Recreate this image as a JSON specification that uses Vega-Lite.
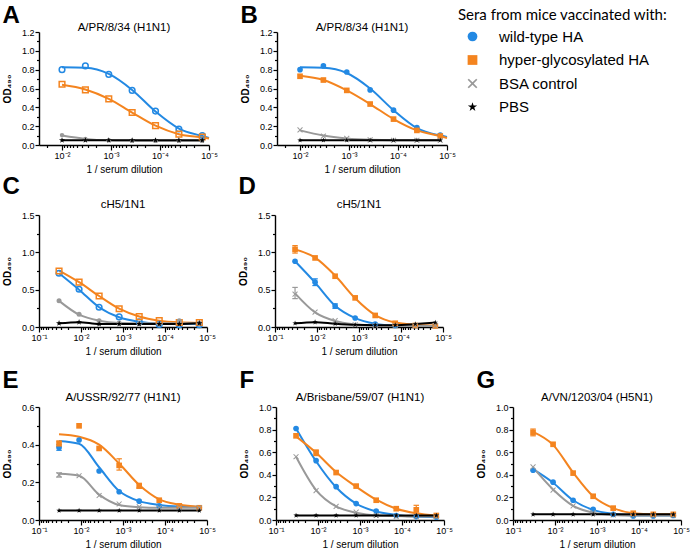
{
"$schema": "https://vega.github.io/schema/vega-lite/v6.json",
"background": "white",
"padding": {"left": 2, "top": 3, "right": 0, "bottom": 0},
"datasets": {"d": [
{"p":"A","s":"wild-type HA","x":0.01,"y":0.80,"f":0.825},
{"p":"A","s":"wild-type HA","x":0.0033333,"y":0.84,"f":0.82},
{"p":"A","s":"wild-type HA","x":0.0011111,"y":0.75,"f":0.755},
{"p":"A","s":"wild-type HA","x":0.00037037,"y":0.58,"f":0.585},
{"p":"A","s":"wild-type HA","x":0.00012346,"y":0.36,"f":0.355},
{"p":"A","s":"wild-type HA","x":0.000041152,"y":0.17,"f":0.175},
{"p":"A","s":"wild-type HA","x":0.000013717,"y":0.10,"f":0.095},
{"p":"A","s":"wild-type HA","x":0.00001,"f":0.075},
{"p":"A","s":"hyper-glycosylated HA","x":0.01,"y":0.645,"f":0.64},
{"p":"A","s":"hyper-glycosylated HA","x":0.0033333,"y":0.585,"f":0.59},
{"p":"A","s":"hyper-glycosylated HA","x":0.0011111,"y":0.49,"f":0.49},
{"p":"A","s":"hyper-glycosylated HA","x":0.00037037,"y":0.345,"f":0.345},
{"p":"A","s":"hyper-glycosylated HA","x":0.00012346,"y":0.205,"f":0.205},
{"p":"A","s":"hyper-glycosylated HA","x":0.000041152,"y":0.115,"f":0.115},
{"p":"A","s":"hyper-glycosylated HA","x":0.000013717,"y":0.085,"f":0.08},
{"p":"A","s":"hyper-glycosylated HA","x":0.00001,"f":0.07},
{"p":"A","s":"BSA control","x":0.01,"y":0.105,"f":0.10},
{"p":"A","s":"BSA control","x":0.0033333,"y":0.065,"f":0.065},
{"p":"A","s":"BSA control","x":0.0011111,"y":0.05,"f":0.05},
{"p":"A","s":"BSA control","x":0.00037037,"y":0.045,"f":0.047},
{"p":"A","s":"BSA control","x":0.00012346,"y":0.045,"f":0.045},
{"p":"A","s":"BSA control","x":0.000041152,"y":0.045,"f":0.045},
{"p":"A","s":"BSA control","x":0.000013717,"y":0.045,"f":0.045},
{"p":"A","s":"PBS","x":0.01,"y":0.05,"f":0.05},
{"p":"A","s":"PBS","x":0.0033333,"y":0.05,"f":0.05},
{"p":"A","s":"PBS","x":0.0011111,"y":0.05,"f":0.05},
{"p":"A","s":"PBS","x":0.00037037,"y":0.05,"f":0.05},
{"p":"A","s":"PBS","x":0.00012346,"y":0.05,"f":0.05},
{"p":"A","s":"PBS","x":0.000041152,"y":0.05,"f":0.05},
{"p":"A","s":"PBS","x":0.000013717,"y":0.05,"f":0.05},
{"p":"B","s":"wild-type HA","x":0.01,"y":0.80,"f":0.825},
{"p":"B","s":"wild-type HA","x":0.0033333,"y":0.84,"f":0.82},
{"p":"B","s":"wild-type HA","x":0.0011111,"y":0.775,"f":0.765},
{"p":"B","s":"wild-type HA","x":0.00037037,"y":0.585,"f":0.6},
{"p":"B","s":"wild-type HA","x":0.00012346,"y":0.37,"f":0.37},
{"p":"B","s":"wild-type HA","x":0.000041152,"y":0.185,"f":0.18},
{"p":"B","s":"wild-type HA","x":0.000013717,"y":0.105,"f":0.10},
{"p":"B","s":"wild-type HA","x":0.00001,"f":0.085},
{"p":"B","s":"hyper-glycosylated HA","x":0.01,"y":0.73,"f":0.735},
{"p":"B","s":"hyper-glycosylated HA","x":0.0033333,"y":0.69,"f":0.69},
{"p":"B","s":"hyper-glycosylated HA","x":0.0011111,"y":0.58,"f":0.58},
{"p":"B","s":"hyper-glycosylated HA","x":0.00037037,"y":0.435,"f":0.435},
{"p":"B","s":"hyper-glycosylated HA","x":0.00012346,"y":0.275,"f":0.275},
{"p":"B","s":"hyper-glycosylated HA","x":0.000041152,"y":0.155,"f":0.155},
{"p":"B","s":"hyper-glycosylated HA","x":0.000013717,"y":0.095,"f":0.095},
{"p":"B","s":"hyper-glycosylated HA","x":0.00001,"f":0.075},
{"p":"B","s":"BSA control","x":0.01,"y":0.16,"f":0.155},
{"p":"B","s":"BSA control","x":0.0033333,"y":0.095,"f":0.10},
{"p":"B","s":"BSA control","x":0.0011111,"y":0.07,"f":0.07},
{"p":"B","s":"BSA control","x":0.00037037,"y":0.055,"f":0.055},
{"p":"B","s":"BSA control","x":0.00012346,"y":0.05,"f":0.05},
{"p":"B","s":"BSA control","x":0.000041152,"y":0.05,"f":0.05},
{"p":"B","s":"BSA control","x":0.000013717,"y":0.05,"f":0.05},
{"p":"B","s":"PBS","x":0.01,"y":0.05,"f":0.05},
{"p":"B","s":"PBS","x":0.0033333,"y":0.05,"f":0.05},
{"p":"B","s":"PBS","x":0.0011111,"y":0.05,"f":0.05},
{"p":"B","s":"PBS","x":0.00037037,"y":0.05,"f":0.05},
{"p":"B","s":"PBS","x":0.00012346,"y":0.05,"f":0.05},
{"p":"B","s":"PBS","x":0.000041152,"y":0.05,"f":0.05},
{"p":"B","s":"PBS","x":0.000013717,"y":0.05,"f":0.05},
{"p":"C","s":"wild-type HA","x":0.033333,"y":0.72,"f":0.72},
{"p":"C","s":"wild-type HA","x":0.011111,"y":0.505,"f":0.50},
{"p":"C","s":"wild-type HA","x":0.0037037,"y":0.265,"f":0.265},
{"p":"C","s":"wild-type HA","x":0.0012346,"y":0.135,"f":0.13},
{"p":"C","s":"wild-type HA","x":0.00041152,"y":0.07,"f":0.07},
{"p":"C","s":"wild-type HA","x":0.00013717,"y":0.035,"f":0.045},
{"p":"C","s":"wild-type HA","x":0.000045725,"y":0.03,"f":0.04},
{"p":"C","s":"wild-type HA","x":0.000015242,"y":0.03,"f":0.04},
{"p":"C","s":"hyper-glycosylated HA","x":0.033333,"y":0.75,"f":0.755},
{"p":"C","s":"hyper-glycosylated HA","x":0.011111,"y":0.60,"f":0.60},
{"p":"C","s":"hyper-glycosylated HA","x":0.0037037,"y":0.415,"f":0.415},
{"p":"C","s":"hyper-glycosylated HA","x":0.0012346,"y":0.245,"f":0.245},
{"p":"C","s":"hyper-glycosylated HA","x":0.00041152,"y":0.14,"f":0.14},
{"p":"C","s":"hyper-glycosylated HA","x":0.00013717,"y":0.085,"f":0.085},
{"p":"C","s":"hyper-glycosylated HA","x":0.000045725,"y":0.06,"f":0.062},
{"p":"C","s":"hyper-glycosylated HA","x":0.000015242,"y":0.06,"f":0.055},
{"p":"C","s":"BSA control","x":0.033333,"y":0.35,"f":0.35},
{"p":"C","s":"BSA control","x":0.011111,"y":0.17,"f":0.165},
{"p":"C","s":"BSA control","x":0.0037037,"y":0.085,"f":0.085},
{"p":"C","s":"BSA control","x":0.0012346,"y":0.053,"f":0.055},
{"p":"C","s":"BSA control","x":0.00041152,"y":0.045,"f":0.05},
{"p":"C","s":"BSA control","x":0.00013717,"y":0.04,"f":0.05},
{"p":"C","s":"BSA control","x":0.000045725,"y":0.085,"f":0.05},
{"p":"C","s":"BSA control","x":0.000015242,"y":0.05,"f":0.05},
{"p":"C","s":"PBS","x":0.033333,"y":0.05,"f":0.05},
{"p":"C","s":"PBS","x":0.011111,"y":0.065,"f":0.065},
{"p":"C","s":"PBS","x":0.0037037,"y":0.04,"f":0.04},
{"p":"C","s":"PBS","x":0.0012346,"y":0.04,"f":0.04},
{"p":"C","s":"PBS","x":0.00041152,"y":0.04,"f":0.04},
{"p":"C","s":"PBS","x":0.00013717,"y":0.04,"f":0.04},
{"p":"C","s":"PBS","x":0.000045725,"y":0.04,"f":0.04},
{"p":"C","s":"PBS","x":0.000015242,"y":0.05,"f":0.05},
{"p":"D","s":"wild-type HA","x":0.033333,"y":0.88,"f":0.88},
{"p":"D","s":"wild-type HA","x":0.011111,"y":0.60,"f":0.595,"lo":0.555,"hi":0.645},
{"p":"D","s":"wild-type HA","x":0.0037037,"y":0.28,"f":0.285,"lo":0.25,"hi":0.31},
{"p":"D","s":"wild-type HA","x":0.0012346,"y":0.12,"f":0.12},
{"p":"D","s":"wild-type HA","x":0.00041152,"y":0.04,"f":0.045},
{"p":"D","s":"wild-type HA","x":0.00013717,"y":0.02,"f":0.02},
{"p":"D","s":"wild-type HA","x":0.000045725,"y":0.02,"f":0.015},
{"p":"D","s":"wild-type HA","x":0.000015242,"y":0.02,"f":0.015},
{"p":"D","s":"hyper-glycosylated HA","x":0.033333,"y":1.04,"f":1.04,"lo":0.99,"hi":1.09},
{"p":"D","s":"hyper-glycosylated HA","x":0.011111,"y":0.925,"f":0.93},
{"p":"D","s":"hyper-glycosylated HA","x":0.0037037,"y":0.68,"f":0.69},
{"p":"D","s":"hyper-glycosylated HA","x":0.0012346,"y":0.39,"f":0.385},
{"p":"D","s":"hyper-glycosylated HA","x":0.00041152,"y":0.155,"f":0.16},
{"p":"D","s":"hyper-glycosylated HA","x":0.00013717,"y":0.05,"f":0.06},
{"p":"D","s":"hyper-glycosylated HA","x":0.000045725,"y":0.02,"f":0.03},
{"p":"D","s":"hyper-glycosylated HA","x":0.000015242,"y":0.015,"f":0.02},
{"p":"D","s":"BSA control","x":0.033333,"y":0.44,"f":0.45,"lo":0.38,"hi":0.53},
{"p":"D","s":"BSA control","x":0.011111,"y":0.20,"f":0.195},
{"p":"D","s":"BSA control","x":0.0037037,"y":0.085,"f":0.08},
{"p":"D","s":"BSA control","x":0.0012346,"y":0.03,"f":0.035},
{"p":"D","s":"BSA control","x":0.00041152,"y":0.02,"f":0.02},
{"p":"D","s":"BSA control","x":0.00013717,"y":0.02,"f":0.015},
{"p":"D","s":"BSA control","x":0.000045725,"y":0.02,"f":0.015},
{"p":"D","s":"BSA control","x":0.000015242,"y":0.02,"f":0.015},
{"p":"D","s":"PBS","x":0.033333,"y":0.05,"f":0.05},
{"p":"D","s":"PBS","x":0.011111,"y":0.065,"f":0.065},
{"p":"D","s":"PBS","x":0.0037037,"y":0.045,"f":0.045},
{"p":"D","s":"PBS","x":0.0012346,"y":0.03,"f":0.03},
{"p":"D","s":"PBS","x":0.00041152,"y":0.025,"f":0.025},
{"p":"D","s":"PBS","x":0.00013717,"y":0.025,"f":0.025},
{"p":"D","s":"PBS","x":0.000045725,"y":0.04,"f":0.04},
{"p":"D","s":"PBS","x":0.000015242,"y":0.06,"f":0.06},
{"p":"E","s":"wild-type HA","x":0.033333,"y":0.385,"f":0.42,"lo":0.37,"hi":0.40},
{"p":"E","s":"wild-type HA","x":0.011111,"y":0.425,"f":0.405},
{"p":"E","s":"wild-type HA","x":0.0037037,"y":0.26,"f":0.28},
{"p":"E","s":"wild-type HA","x":0.0012346,"y":0.15,"f":0.154},
{"p":"E","s":"wild-type HA","x":0.00041152,"y":0.10,"f":0.10},
{"p":"E","s":"wild-type HA","x":0.00013717,"y":0.075,"f":0.08},
{"p":"E","s":"wild-type HA","x":0.000045725,"y":0.07,"f":0.072},
{"p":"E","s":"wild-type HA","x":0.000015242,"y":0.065,"f":0.07},
{"p":"E","s":"hyper-glycosylated HA","x":0.033333,"y":0.405,"f":0.455,"lo":0.39,"hi":0.42},
{"p":"E","s":"hyper-glycosylated HA","x":0.011111,"y":0.50,"f":0.442},
{"p":"E","s":"hyper-glycosylated HA","x":0.0037037,"y":0.38,"f":0.40},
{"p":"E","s":"hyper-glycosylated HA","x":0.0012346,"y":0.29,"f":0.30,"lo":0.265,"hi":0.325},
{"p":"E","s":"hyper-glycosylated HA","x":0.00041152,"y":0.18,"f":0.186,"lo":0.17,"hi":0.195},
{"p":"E","s":"hyper-glycosylated HA","x":0.00013717,"y":0.105,"f":0.11},
{"p":"E","s":"hyper-glycosylated HA","x":0.000045725,"y":0.075,"f":0.082},
{"p":"E","s":"hyper-glycosylated HA","x":0.000015242,"y":0.065,"f":0.069},
{"p":"E","s":"BSA control","x":0.033333,"y":0.24,"f":0.245,"lo":0.228,"hi":0.25},
{"p":"E","s":"BSA control","x":0.011111,"y":0.235,"f":0.235},
{"p":"E","s":"BSA control","x":0.0037037,"y":0.13,"f":0.135},
{"p":"E","s":"BSA control","x":0.0012346,"y":0.085,"f":0.08},
{"p":"E","s":"BSA control","x":0.00041152,"y":0.07,"f":0.068},
{"p":"E","s":"BSA control","x":0.00013717,"y":0.065,"f":0.065},
{"p":"E","s":"BSA control","x":0.000045725,"y":0.065,"f":0.065},
{"p":"E","s":"BSA control","x":0.000015242,"y":0.065,"f":0.065},
{"p":"E","s":"PBS","x":0.033333,"y":0.05,"f":0.05},
{"p":"E","s":"PBS","x":0.011111,"y":0.05,"f":0.05},
{"p":"E","s":"PBS","x":0.0037037,"y":0.05,"f":0.05},
{"p":"E","s":"PBS","x":0.0012346,"y":0.05,"f":0.05},
{"p":"E","s":"PBS","x":0.00041152,"y":0.05,"f":0.05},
{"p":"E","s":"PBS","x":0.00013717,"y":0.05,"f":0.05},
{"p":"E","s":"PBS","x":0.000045725,"y":0.05,"f":0.05},
{"p":"E","s":"PBS","x":0.000015242,"y":0.05,"f":0.05},
{"p":"F","s":"wild-type HA","x":0.033333,"y":0.81,"f":0.81},
{"p":"F","s":"wild-type HA","x":0.011111,"y":0.525,"f":0.52},
{"p":"F","s":"wild-type HA","x":0.0037037,"y":0.295,"f":0.29},
{"p":"F","s":"wild-type HA","x":0.0012346,"y":0.145,"f":0.145},
{"p":"F","s":"wild-type HA","x":0.00041152,"y":0.08,"f":0.075},
{"p":"F","s":"wild-type HA","x":0.00013717,"y":0.04,"f":0.045},
{"p":"F","s":"wild-type HA","x":0.000045725,"y":0.03,"f":0.03},
{"p":"F","s":"wild-type HA","x":0.000015242,"y":0.025,"f":0.025},
{"p":"F","s":"hyper-glycosylated HA","x":0.033333,"y":0.745,"f":0.74},
{"p":"F","s":"hyper-glycosylated HA","x":0.011111,"y":0.595,"f":0.595,"lo":0.57,"hi":0.62},
{"p":"F","s":"hyper-glycosylated HA","x":0.0037037,"y":0.42,"f":0.425},
{"p":"F","s":"hyper-glycosylated HA","x":0.0012346,"y":0.30,"f":0.295},
{"p":"F","s":"hyper-glycosylated HA","x":0.00041152,"y":0.175,"f":0.18},
{"p":"F","s":"hyper-glycosylated HA","x":0.00013717,"y":0.10,"f":0.10},
{"p":"F","s":"hyper-glycosylated HA","x":0.000045725,"y":0.09,"f":0.06,"lo":0.05,"hi":0.13},
{"p":"F","s":"hyper-glycosylated HA","x":0.000015242,"y":0.04,"f":0.04},
{"p":"F","s":"BSA control","x":0.033333,"y":0.56,"f":0.56},
{"p":"F","s":"BSA control","x":0.011111,"y":0.26,"f":0.265},
{"p":"F","s":"BSA control","x":0.0037037,"y":0.12,"f":0.12},
{"p":"F","s":"BSA control","x":0.0012346,"y":0.07,"f":0.065},
{"p":"F","s":"BSA control","x":0.00041152,"y":0.04,"f":0.04},
{"p":"F","s":"BSA control","x":0.00013717,"y":0.03,"f":0.035},
{"p":"F","s":"BSA control","x":0.000045725,"y":0.03,"f":0.03},
{"p":"F","s":"BSA control","x":0.000015242,"y":0.03,"f":0.03},
{"p":"F","s":"PBS","x":0.033333,"y":0.04,"f":0.04},
{"p":"F","s":"PBS","x":0.011111,"y":0.04,"f":0.04},
{"p":"F","s":"PBS","x":0.0037037,"y":0.04,"f":0.04},
{"p":"F","s":"PBS","x":0.0012346,"y":0.04,"f":0.04},
{"p":"F","s":"PBS","x":0.00041152,"y":0.04,"f":0.04},
{"p":"F","s":"PBS","x":0.00013717,"y":0.04,"f":0.04},
{"p":"F","s":"PBS","x":0.000045725,"y":0.04,"f":0.04},
{"p":"F","s":"PBS","x":0.000015242,"y":0.04,"f":0.04},
{"p":"G","s":"wild-type HA","x":0.033333,"y":0.44,"f":0.45},
{"p":"G","s":"wild-type HA","x":0.011111,"y":0.335,"f":0.33},
{"p":"G","s":"wild-type HA","x":0.0037037,"y":0.175,"f":0.175},
{"p":"G","s":"wild-type HA","x":0.0012346,"y":0.095,"f":0.09},
{"p":"G","s":"wild-type HA","x":0.00041152,"y":0.05,"f":0.055},
{"p":"G","s":"wild-type HA","x":0.00013717,"y":0.035,"f":0.04},
{"p":"G","s":"wild-type HA","x":0.000045725,"y":0.035,"f":0.04},
{"p":"G","s":"wild-type HA","x":0.000015242,"y":0.04,"f":0.04},
{"p":"G","s":"hyper-glycosylated HA","x":0.033333,"y":0.775,"f":0.78,"lo":0.745,"hi":0.805},
{"p":"G","s":"hyper-glycosylated HA","x":0.011111,"y":0.67,"f":0.665},
{"p":"G","s":"hyper-glycosylated HA","x":0.0037037,"y":0.415,"f":0.42},
{"p":"G","s":"hyper-glycosylated HA","x":0.0012346,"y":0.21,"f":0.21},
{"p":"G","s":"hyper-glycosylated HA","x":0.00041152,"y":0.105,"f":0.105},
{"p":"G","s":"hyper-glycosylated HA","x":0.00013717,"y":0.06,"f":0.06},
{"p":"G","s":"hyper-glycosylated HA","x":0.000045725,"y":0.05,"f":0.05},
{"p":"G","s":"hyper-glycosylated HA","x":0.000015242,"y":0.05,"f":0.05},
{"p":"G","s":"BSA control","x":0.033333,"y":0.47,"f":0.465},
{"p":"G","s":"BSA control","x":0.011111,"y":0.265,"f":0.27},
{"p":"G","s":"BSA control","x":0.0037037,"y":0.125,"f":0.125},
{"p":"G","s":"BSA control","x":0.0012346,"y":0.065,"f":0.065},
{"p":"G","s":"BSA control","x":0.00041152,"y":0.045,"f":0.045},
{"p":"G","s":"BSA control","x":0.00013717,"y":0.04,"f":0.04},
{"p":"G","s":"BSA control","x":0.000045725,"y":0.04,"f":0.04},
{"p":"G","s":"BSA control","x":0.000015242,"y":0.04,"f":0.04},
{"p":"G","s":"PBS","x":0.033333,"y":0.05,"f":0.05},
{"p":"G","s":"PBS","x":0.011111,"y":0.05,"f":0.05},
{"p":"G","s":"PBS","x":0.0037037,"y":0.05,"f":0.05},
{"p":"G","s":"PBS","x":0.0012346,"y":0.05,"f":0.05},
{"p":"G","s":"PBS","x":0.00041152,"y":0.05,"f":0.05},
{"p":"G","s":"PBS","x":0.00013717,"y":0.05,"f":0.05},
{"p":"G","s":"PBS","x":0.000045725,"y":0.05,"f":0.05},
{"p":"G","s":"PBS","x":0.000015242,"y":0.05,"f":0.05}
]},
"config": {
  "view": {"stroke": null},
  "font": "Liberation Sans",
  "axis": {"domainColor": "#000", "domainWidth": 1.4, "tickColor": "#000", "tickWidth": 1.2, "labelFont": "Liberation Sans", "labelFontSize": 9, "labelColor": "#000", "grid": false, "titleFont": "Liberation Sans", "titleColor": "#000", "labelFlush": false, "labelOverlap": false, "labelPadding": 1},
  "axisX": {"titleFontWeight": "normal", "titleFontSize": 10, "titlePadding": 4},
  "axisY": {"titleFontWeight": "bold", "titleFontSize": 10, "titlePadding": 9},
  "title": {"font": "Liberation Sans", "fontSize": 11.5, "fontWeight": "normal", "color": "#000", "offset": 0, "frame": "group"},
  "point": {"opacity": 1}
},
"vconcat": [
{"vconcat": [
{"hconcat": [
 {"title": {"text": "A", "anchor": "start", "frame": "bounds", "font": "Liberation Sans", "fontSize": 24, "fontWeight": "bold", "color": "#000", "offset": -6},
  "vconcat": [{
  "width": 170, "height": 113,
  "title": {"text": "A/PR/8/34 (H1N1)", "offset": -5},
  "data": {"name": "d"},
  "transform": [{"filter": "datum.p == 'A'"}],
  "encoding": {
    "x": {"field": "x", "type": "quantitative", "title": "1 / serum dilution", "scale": {"type": "log", "domain": [0.00001, 0.0295], "reverse": true, "nice": false},
      "axis": {"values": [0.02,0.01,0.009,0.008,0.007,0.006,0.005,0.004,0.003,0.002,0.001,0.0009,0.0008,0.0007,0.0006,0.0005,0.0004,0.0003,0.0002,0.0001,0.00009,0.00008,0.00007,0.00006,0.00005,0.00004,0.00003,0.00002,0.00001],
        "labelExpr": "abs(log(datum.value)/LN10 - round(log(datum.value)/LN10)) < 0.001 ? '10' + ['⁰','⁻¹','⁻²','⁻³','⁻⁴','⁻⁵'][-round(log(datum.value)/LN10)] : ''",
        "tickSize": {"condition": {"test": "abs(log(datum.value)/LN10 - round(log(datum.value)/LN10)) < 0.001", "value": 5}, "value": 2.5}}},
    "y": {"field": "y", "type": "quantitative", "title": "OD₄₉₀", "scale": {"domain": [0, 1.2], "nice": false},
      "axis": {"values": [0,0.1,0.2,0.3,0.4,0.5,0.6,0.7,0.8,0.9,1,1.1,1.2], "labelExpr": "round(datum.value*10) % 2 == 0 ? format(datum.value, '.1f') : ''",
        "tickSize": {"condition": {"test": "round(datum.value*10) % 2 == 0", "value": 4}, "value": 2.5}}}
  },
  "layer": [
    {"mark": {"type": "line", "strokeWidth": 2, "interpolate": "monotone"},
     "encoding": {"y": {"field": "f", "type": "quantitative", "scale": {"domain": [0, 1.2], "nice": false}},
       "order": {"field": "x", "sort": "descending"},
       "stroke": {"field": "s", "type": "nominal", "legend": null, "scale": {"domain": ["PBS","BSA control","hyper-glycosylated HA","wild-type HA"], "range": ["#000000","#999999","#f4841f","#2389e3"]}}}},
    {"transform": [{"filter": "isValid(datum.y) && datum.s == 'wild-type HA'"}],
     "mark": {"type": "point", "filled": false, "shape": "circle", "strokeWidth": 1.5, "size": 32, "opacity": 1},
     "encoding": {"stroke": {"field": "s", "type": "nominal", "legend": null, "scale": {"domain": ["PBS","BSA control","hyper-glycosylated HA","wild-type HA"], "range": ["#000000","#999999","#f4841f","#2389e3"]}}}},
    {"transform": [{"filter": "isValid(datum.y) && datum.s == 'hyper-glycosylated HA'"}],
     "mark": {"type": "point", "filled": false, "shape": "square", "strokeWidth": 1.5, "size": 32, "opacity": 1},
     "encoding": {"stroke": {"field": "s", "type": "nominal", "legend": null, "scale": {"domain": ["PBS","BSA control","hyper-glycosylated HA","wild-type HA"], "range": ["#000000","#999999","#f4841f","#2389e3"]}}}},
    {"transform": [{"filter": "datum.s == 'BSA control'"}],
     "mark": {"type": "point", "filled": true, "shape": "circle", "size": 20, "opacity": 1},
     "encoding": {"fill": {"field": "s", "type": "nominal", "legend": null, "scale": {"domain": ["BSA control","PBS","wild-type HA","hyper-glycosylated HA"], "range": ["#999999","#000000","#2389e3","#f4841f"]}}}},
    {"transform": [{"filter": "datum.s == 'PBS'"}],
     "mark": {"type": "point", "filled": true, "shape": "M0,-1L0.2245,-0.309L0.9511,-0.309L0.3633,0.118L0.5878,0.809L0,0.382L-0.5878,0.809L-0.3633,0.118L-0.9511,-0.309L-0.2245,-0.309Z", "size": 40, "opacity": 1},
     "encoding": {"fill": {"field": "s", "type": "nominal", "legend": null, "scale": {"domain": ["BSA control","PBS","wild-type HA","hyper-glycosylated HA"], "range": ["#999999","#000000","#2389e3","#f4841f"]}}}}
  ]}]},
 {"title": {"text": "B", "anchor": "start", "frame": "bounds", "font": "Liberation Sans", "fontSize": 24, "fontWeight": "bold", "color": "#000", "offset": -6},
  "vconcat": [{
  "width": 170, "height": 113,
  "title": {"text": "A/PR/8/34 (H1N1)", "offset": -5},
  "data": {"name": "d"},
  "transform": [{"filter": "datum.p == 'B'"}],
  "encoding": {
    "x": {"field": "x", "type": "quantitative", "title": "1 / serum dilution", "scale": {"type": "log", "domain": [0.00001, 0.0295], "reverse": true, "nice": false},
      "axis": {"values": [0.02,0.01,0.009,0.008,0.007,0.006,0.005,0.004,0.003,0.002,0.001,0.0009,0.0008,0.0007,0.0006,0.0005,0.0004,0.0003,0.0002,0.0001,0.00009,0.00008,0.00007,0.00006,0.00005,0.00004,0.00003,0.00002,0.00001],
        "labelExpr": "abs(log(datum.value)/LN10 - round(log(datum.value)/LN10)) < 0.001 ? '10' + ['⁰','⁻¹','⁻²','⁻³','⁻⁴','⁻⁵'][-round(log(datum.value)/LN10)] : ''",
        "tickSize": {"condition": {"test": "abs(log(datum.value)/LN10 - round(log(datum.value)/LN10)) < 0.001", "value": 5}, "value": 2.5}}},
    "y": {"field": "y", "type": "quantitative", "title": "OD₄₉₀", "scale": {"domain": [0, 1.2], "nice": false},
      "axis": {"values": [0,0.1,0.2,0.3,0.4,0.5,0.6,0.7,0.8,0.9,1,1.1,1.2], "labelExpr": "round(datum.value*10) % 2 == 0 ? format(datum.value, '.1f') : ''",
        "tickSize": {"condition": {"test": "round(datum.value*10) % 2 == 0", "value": 4}, "value": 2.5}}}
  },
  "layer": [
    {"mark": {"type": "line", "strokeWidth": 2, "interpolate": "monotone"},
     "encoding": {"y": {"field": "f", "type": "quantitative", "scale": {"domain": [0, 1.2], "nice": false}},
       "order": {"field": "x", "sort": "descending"},
       "stroke": {"field": "s", "type": "nominal", "legend": null, "scale": {"domain": ["PBS","BSA control","hyper-glycosylated HA","wild-type HA"], "range": ["#000000","#999999","#f4841f","#2389e3"]}}}},
    {"transform": [{"filter": "isValid(datum.y)"}],
     "mark": {"type": "point", "filled": true, "size": 32, "opacity": 1},
     "encoding": {
       "color": {"field": "s", "type": "nominal", "scale": {"domain": ["wild-type HA","hyper-glycosylated HA","BSA control","PBS"], "range": ["#2389e3","#f4841f","#999999","#000000"]},
         "legend": {"title": "Sera from mice vaccinated with:", "orient": "none", "legendX": 419, "legendY": -24, "titleFont": "Lato", "titleFontSize": 15, "titleFontWeight": "normal", "titleColor": "#000", "titlePadding": 6, "labelFont": "Liberation Sans", "labelFontSize": 15, "labelColor": "#000", "symbolSize": 95, "symbolOffset": 7, "labelOffset": 19, "rowPadding": 7.5, "titleLimit": 400, "labelLimit": 300}},
       "shape": {"field": "s", "type": "nominal", "scale": {"domain": ["wild-type HA","hyper-glycosylated HA","BSA control","PBS"], "range": ["circle","square","M-1,-0.75L-0.75,-1L0,-0.25L0.75,-1L1,-0.75L0.25,0L1,0.75L0.75,1L0,0.25L-0.75,1L-1,0.75L-0.25,0Z","M0,-1L0.2245,-0.309L0.9511,-0.309L0.3633,0.118L0.5878,0.809L0,0.382L-0.5878,0.809L-0.3633,0.118L-0.9511,-0.309L-0.2245,-0.309Z"]},
         "legend": {"title": "Sera from mice vaccinated with:", "orient": "none", "legendX": 419, "legendY": -24, "titleFont": "Lato", "titleFontSize": 15, "titleFontWeight": "normal", "titleColor": "#000", "titlePadding": 6, "labelFont": "Liberation Sans", "labelFontSize": 15, "labelColor": "#000", "symbolSize": 95, "symbolOffset": 7, "labelOffset": 19, "rowPadding": 7.5, "titleLimit": 400, "labelLimit": 300}}}}
  ]}]}
 ], "spacing": 22},
{"hconcat": [
 {"title": {"text": "C", "anchor": "start", "frame": "bounds", "font": "Liberation Sans", "fontSize": 24, "fontWeight": "bold", "color": "#000", "offset": 0},
  "vconcat": [{
  "width": 168, "height": 112,
  "title": {"text": "cH5/1N1", "offset": 1},
  "data": {"name": "d"},
  "transform": [{"filter": "datum.p == 'C'"}],
  "encoding": {
    "x": {"field": "x", "type": "quantitative", "title": "1 / serum dilution", "scale": {"type": "log", "domain": [0.00001, 0.1], "reverse": true, "nice": false},
      "axis": {"values": [0.1,0.09,0.08,0.07,0.06,0.05,0.04,0.03,0.02,0.01,0.009,0.008,0.007,0.006,0.005,0.004,0.003,0.002,0.001,0.0009,0.0008,0.0007,0.0006,0.0005,0.0004,0.0003,0.0002,0.0001,0.00009,0.00008,0.00007,0.00006,0.00005,0.00004,0.00003,0.00002,0.00001],
        "labelExpr": "abs(log(datum.value)/LN10 - round(log(datum.value)/LN10)) < 0.001 ? '10' + ['⁰','⁻¹','⁻²','⁻³','⁻⁴','⁻⁵'][-round(log(datum.value)/LN10)] : ''",
        "tickSize": {"condition": {"test": "abs(log(datum.value)/LN10 - round(log(datum.value)/LN10)) < 0.001", "value": 5}, "value": 2.5}}},
    "y": {"field": "y", "type": "quantitative", "title": "OD₄₉₀", "scale": {"domain": [0, 1.5], "nice": false},
      "axis": {"values": [0,0.25,0.5,0.75,1,1.25,1.5], "labelExpr": "round(datum.value*4) % 2 == 0 ? format(datum.value, '.1f') : ''",
        "tickSize": {"condition": {"test": "round(datum.value*4) % 2 == 0", "value": 4}, "value": 2.5}}}
  },
  "layer": [
    {"mark": {"type": "line", "strokeWidth": 2, "interpolate": "monotone"},
     "encoding": {"y": {"field": "f", "type": "quantitative", "scale": {"domain": [0, 1.5], "nice": false}},
       "order": {"field": "x", "sort": "descending"},
       "stroke": {"field": "s", "type": "nominal", "legend": null, "scale": {"domain": ["PBS","BSA control","hyper-glycosylated HA","wild-type HA"], "range": ["#000000","#999999","#f4841f","#2389e3"]}}}},
    {"transform": [{"filter": "isValid(datum.y) && datum.s == 'wild-type HA'"}],
     "mark": {"type": "point", "filled": false, "shape": "circle", "strokeWidth": 1.5, "size": 32, "opacity": 1},
     "encoding": {"stroke": {"field": "s", "type": "nominal", "legend": null, "scale": {"domain": ["PBS","BSA control","hyper-glycosylated HA","wild-type HA"], "range": ["#000000","#999999","#f4841f","#2389e3"]}}}},
    {"transform": [{"filter": "isValid(datum.y) && datum.s == 'hyper-glycosylated HA'"}],
     "mark": {"type": "point", "filled": false, "shape": "square", "strokeWidth": 1.5, "size": 32, "opacity": 1},
     "encoding": {"stroke": {"field": "s", "type": "nominal", "legend": null, "scale": {"domain": ["PBS","BSA control","hyper-glycosylated HA","wild-type HA"], "range": ["#000000","#999999","#f4841f","#2389e3"]}}}},
    {"transform": [{"filter": "datum.s == 'BSA control'"}],
     "mark": {"type": "point", "filled": true, "shape": "circle", "size": 25, "opacity": 1},
     "encoding": {"fill": {"field": "s", "type": "nominal", "legend": null, "scale": {"domain": ["BSA control","PBS","wild-type HA","hyper-glycosylated HA"], "range": ["#999999","#000000","#2389e3","#f4841f"]}}}},
    {"transform": [{"filter": "datum.s == 'PBS'"}],
     "mark": {"type": "point", "filled": true, "shape": "M0,-1L0.2245,-0.309L0.9511,-0.309L0.3633,0.118L0.5878,0.809L0,0.382L-0.5878,0.809L-0.3633,0.118L-0.9511,-0.309L-0.2245,-0.309Z", "size": 40, "opacity": 1},
     "encoding": {"fill": {"field": "s", "type": "nominal", "legend": null, "scale": {"domain": ["BSA control","PBS","wild-type HA","hyper-glycosylated HA"], "range": ["#999999","#000000","#2389e3","#f4841f"]}}}}
  ]}]},
 {"title": {"text": "D", "anchor": "start", "frame": "bounds", "font": "Liberation Sans", "fontSize": 24, "fontWeight": "bold", "color": "#000", "offset": 0},
  "vconcat": [{
  "width": 168, "height": 112,
  "title": {"text": "cH5/1N1", "offset": 1},
  "data": {"name": "d"},
  "transform": [{"filter": "datum.p == 'D'"}],
  "encoding": {
    "x": {"field": "x", "type": "quantitative", "title": "1 / serum dilution", "scale": {"type": "log", "domain": [0.00001, 0.1], "reverse": true, "nice": false},
      "axis": {"values": [0.1,0.09,0.08,0.07,0.06,0.05,0.04,0.03,0.02,0.01,0.009,0.008,0.007,0.006,0.005,0.004,0.003,0.002,0.001,0.0009,0.0008,0.0007,0.0006,0.0005,0.0004,0.0003,0.0002,0.0001,0.00009,0.00008,0.00007,0.00006,0.00005,0.00004,0.00003,0.00002,0.00001],
        "labelExpr": "abs(log(datum.value)/LN10 - round(log(datum.value)/LN10)) < 0.001 ? '10' + ['⁰','⁻¹','⁻²','⁻³','⁻⁴','⁻⁵'][-round(log(datum.value)/LN10)] : ''",
        "tickSize": {"condition": {"test": "abs(log(datum.value)/LN10 - round(log(datum.value)/LN10)) < 0.001", "value": 5}, "value": 2.5}}},
    "y": {"field": "y", "type": "quantitative", "title": "OD₄₉₀", "scale": {"domain": [0, 1.5], "nice": false},
      "axis": {"values": [0,0.25,0.5,0.75,1,1.25,1.5], "labelExpr": "round(datum.value*4) % 2 == 0 ? format(datum.value, '.1f') : ''",
        "tickSize": {"condition": {"test": "round(datum.value*4) % 2 == 0", "value": 4}, "value": 2.5}}}
  },
  "layer": [
    {"mark": {"type": "line", "strokeWidth": 2, "interpolate": "monotone"},
     "encoding": {"y": {"field": "f", "type": "quantitative", "scale": {"domain": [0, 1.5], "nice": false}},
       "order": {"field": "x", "sort": "descending"},
       "stroke": {"field": "s", "type": "nominal", "legend": null, "scale": {"domain": ["PBS","BSA control","hyper-glycosylated HA","wild-type HA"], "range": ["#000000","#999999","#f4841f","#2389e3"]}}}},
    {"transform": [{"filter": "isValid(datum.lo)"}],
     "mark": {"type": "rule", "strokeWidth": 1.2},
     "encoding": {"y": {"field": "lo", "type": "quantitative", "scale": {"domain": [0, 1.5], "nice": false}}, "y2": {"field": "hi"},
       "stroke": {"field": "s", "type": "nominal", "legend": null, "scale": {"domain": ["PBS","BSA control","hyper-glycosylated HA","wild-type HA"], "range": ["#000000","#999999","#f4841f","#2389e3"]}}}},
    {"transform": [{"filter": "isValid(datum.lo)"}],
     "mark": {"type": "point", "shape": "stroke", "filled": false, "size": 30, "strokeWidth": 1.2, "opacity": 1},
     "encoding": {"y": {"field": "lo", "type": "quantitative", "scale": {"domain": [0, 1.5], "nice": false}},
       "stroke": {"field": "s", "type": "nominal", "legend": null, "scale": {"domain": ["PBS","BSA control","hyper-glycosylated HA","wild-type HA"], "range": ["#000000","#999999","#f4841f","#2389e3"]}}}},
    {"transform": [{"filter": "isValid(datum.hi)"}],
     "mark": {"type": "point", "shape": "stroke", "filled": false, "size": 30, "strokeWidth": 1.2, "opacity": 1},
     "encoding": {"y": {"field": "hi", "type": "quantitative", "scale": {"domain": [0, 1.5], "nice": false}},
       "stroke": {"field": "s", "type": "nominal", "legend": null, "scale": {"domain": ["PBS","BSA control","hyper-glycosylated HA","wild-type HA"], "range": ["#000000","#999999","#f4841f","#2389e3"]}}}},
    {"transform": [{"filter": "isValid(datum.y)"}],
     "mark": {"type": "point", "filled": true, "size": 32, "opacity": 1},
     "encoding": {
       "color": {"field": "s", "type": "nominal", "scale": {"domain": ["wild-type HA","hyper-glycosylated HA","BSA control","PBS"], "range": ["#2389e3","#f4841f","#999999","#000000"]},
         "legend": {"title": "Sera from mice vaccinated with:", "orient": "none", "legendX": 419, "legendY": -24, "titleFont": "Lato", "titleFontSize": 15, "titleFontWeight": "normal", "titleColor": "#000", "titlePadding": 6, "labelFont": "Liberation Sans", "labelFontSize": 15, "labelColor": "#000", "symbolSize": 95, "symbolOffset": 7, "labelOffset": 19, "rowPadding": 7.5, "titleLimit": 400, "labelLimit": 300}},
       "shape": {"field": "s", "type": "nominal", "scale": {"domain": ["wild-type HA","hyper-glycosylated HA","BSA control","PBS"], "range": ["circle","square","M-1,-0.75L-0.75,-1L0,-0.25L0.75,-1L1,-0.75L0.25,0L1,0.75L0.75,1L0,0.25L-0.75,1L-1,0.75L-0.25,0Z","M0,-1L0.2245,-0.309L0.9511,-0.309L0.3633,0.118L0.5878,0.809L0,0.382L-0.5878,0.809L-0.3633,0.118L-0.9511,-0.309L-0.2245,-0.309Z"]},
         "legend": {"title": "Sera from mice vaccinated with:", "orient": "none", "legendX": 419, "legendY": -24, "titleFont": "Lato", "titleFontSize": 15, "titleFontWeight": "normal", "titleColor": "#000", "titlePadding": 6, "labelFont": "Liberation Sans", "labelFontSize": 15, "labelColor": "#000", "symbolSize": 95, "symbolOffset": 7, "labelOffset": 19, "rowPadding": 7.5, "titleLimit": 400, "labelLimit": 300}}}}
  ]}]}
 ], "spacing": 22}
], "spacing": 0},
{"hconcat": [
 {"title": {"text": "E", "anchor": "start", "frame": "bounds", "font": "Liberation Sans", "fontSize": 24, "fontWeight": "bold", "color": "#000", "offset": -1},
  "vconcat": [{
  "width": 168, "height": 113,
  "title": {"text": "A/USSR/92/77 (H1N1)", "offset": 0},
  "data": {"name": "d"},
  "transform": [{"filter": "datum.p == 'E'"}],
  "encoding": {
    "x": {"field": "x", "type": "quantitative", "title": "1 / serum dilution", "scale": {"type": "log", "domain": [0.00001, 0.1], "reverse": true, "nice": false},
      "axis": {"values": [0.1,0.09,0.08,0.07,0.06,0.05,0.04,0.03,0.02,0.01,0.009,0.008,0.007,0.006,0.005,0.004,0.003,0.002,0.001,0.0009,0.0008,0.0007,0.0006,0.0005,0.0004,0.0003,0.0002,0.0001,0.00009,0.00008,0.00007,0.00006,0.00005,0.00004,0.00003,0.00002,0.00001],
        "labelExpr": "abs(log(datum.value)/LN10 - round(log(datum.value)/LN10)) < 0.001 ? '10' + ['⁰','⁻¹','⁻²','⁻³','⁻⁴','⁻⁵'][-round(log(datum.value)/LN10)] : ''",
        "tickSize": {"condition": {"test": "abs(log(datum.value)/LN10 - round(log(datum.value)/LN10)) < 0.001", "value": 5}, "value": 2.5}}},
    "y": {"field": "y", "type": "quantitative", "title": "OD₄₉₀", "scale": {"domain": [0, 0.6], "nice": false},
      "axis": {"values": [0,0.1,0.2,0.3,0.4,0.5,0.6], "labelExpr": "round(datum.value*10) % 2 == 0 ? format(datum.value, '.1f') : ''",
        "tickSize": {"condition": {"test": "round(datum.value*10) % 2 == 0", "value": 4}, "value": 2.5}}}
  },
  "layer": [
    {"mark": {"type": "line", "strokeWidth": 2, "interpolate": "monotone"},
     "encoding": {"y": {"field": "f", "type": "quantitative", "scale": {"domain": [0, 0.6], "nice": false}},
       "order": {"field": "x", "sort": "descending"},
       "stroke": {"field": "s", "type": "nominal", "legend": null, "scale": {"domain": ["PBS","BSA control","hyper-glycosylated HA","wild-type HA"], "range": ["#000000","#999999","#f4841f","#2389e3"]}}}},
    {"transform": [{"filter": "isValid(datum.lo)"}],
     "mark": {"type": "rule", "strokeWidth": 1.2},
     "encoding": {"y": {"field": "lo", "type": "quantitative", "scale": {"domain": [0, 0.6], "nice": false}}, "y2": {"field": "hi"},
       "stroke": {"field": "s", "type": "nominal", "legend": null, "scale": {"domain": ["PBS","BSA control","hyper-glycosylated HA","wild-type HA"], "range": ["#000000","#999999","#f4841f","#2389e3"]}}}},
    {"transform": [{"filter": "isValid(datum.lo)"}],
     "mark": {"type": "point", "shape": "stroke", "filled": false, "size": 30, "strokeWidth": 1.2, "opacity": 1},
     "encoding": {"y": {"field": "lo", "type": "quantitative", "scale": {"domain": [0, 0.6], "nice": false}},
       "stroke": {"field": "s", "type": "nominal", "legend": null, "scale": {"domain": ["PBS","BSA control","hyper-glycosylated HA","wild-type HA"], "range": ["#000000","#999999","#f4841f","#2389e3"]}}}},
    {"transform": [{"filter": "isValid(datum.hi)"}],
     "mark": {"type": "point", "shape": "stroke", "filled": false, "size": 30, "strokeWidth": 1.2, "opacity": 1},
     "encoding": {"y": {"field": "hi", "type": "quantitative", "scale": {"domain": [0, 0.6], "nice": false}},
       "stroke": {"field": "s", "type": "nominal", "legend": null, "scale": {"domain": ["PBS","BSA control","hyper-glycosylated HA","wild-type HA"], "range": ["#000000","#999999","#f4841f","#2389e3"]}}}},
    {"transform": [{"filter": "isValid(datum.y)"}],
     "mark": {"type": "point", "filled": true, "size": 32, "opacity": 1},
     "encoding": {
       "color": {"field": "s", "type": "nominal", "scale": {"domain": ["wild-type HA","hyper-glycosylated HA","BSA control","PBS"], "range": ["#2389e3","#f4841f","#999999","#000000"]},
         "legend": {"title": "Sera from mice vaccinated with:", "orient": "none", "legendX": 419, "legendY": -24, "titleFont": "Lato", "titleFontSize": 15, "titleFontWeight": "normal", "titleColor": "#000", "titlePadding": 6, "labelFont": "Liberation Sans", "labelFontSize": 15, "labelColor": "#000", "symbolSize": 95, "symbolOffset": 7, "labelOffset": 19, "rowPadding": 7.5, "titleLimit": 400, "labelLimit": 300}},
       "shape": {"field": "s", "type": "nominal", "scale": {"domain": ["wild-type HA","hyper-glycosylated HA","BSA control","PBS"], "range": ["circle","square","M-1,-0.75L-0.75,-1L0,-0.25L0.75,-1L1,-0.75L0.25,0L1,0.75L0.75,1L0,0.25L-0.75,1L-1,0.75L-0.25,0Z","M0,-1L0.2245,-0.309L0.9511,-0.309L0.3633,0.118L0.5878,0.809L0,0.382L-0.5878,0.809L-0.3633,0.118L-0.9511,-0.309L-0.2245,-0.309Z"]},
         "legend": {"title": "Sera from mice vaccinated with:", "orient": "none", "legendX": 419, "legendY": -24, "titleFont": "Lato", "titleFontSize": 15, "titleFontWeight": "normal", "titleColor": "#000", "titlePadding": 6, "labelFont": "Liberation Sans", "labelFontSize": 15, "labelColor": "#000", "symbolSize": 95, "symbolOffset": 7, "labelOffset": 19, "rowPadding": 7.5, "titleLimit": 400, "labelLimit": 300}}}}
  ]}]},
 {"title": {"text": "F", "anchor": "start", "frame": "bounds", "font": "Liberation Sans", "fontSize": 24, "fontWeight": "bold", "color": "#000", "offset": -1},
  "vconcat": [{
  "width": 168, "height": 113,
  "title": {"text": "A/Brisbane/59/07 (H1N1)", "offset": 0},
  "data": {"name": "d"},
  "transform": [{"filter": "datum.p == 'F'"}],
  "encoding": {
    "x": {"field": "x", "type": "quantitative", "title": "1 / serum dilution", "scale": {"type": "log", "domain": [0.00001, 0.1], "reverse": true, "nice": false},
      "axis": {"values": [0.1,0.09,0.08,0.07,0.06,0.05,0.04,0.03,0.02,0.01,0.009,0.008,0.007,0.006,0.005,0.004,0.003,0.002,0.001,0.0009,0.0008,0.0007,0.0006,0.0005,0.0004,0.0003,0.0002,0.0001,0.00009,0.00008,0.00007,0.00006,0.00005,0.00004,0.00003,0.00002,0.00001],
        "labelExpr": "abs(log(datum.value)/LN10 - round(log(datum.value)/LN10)) < 0.001 ? '10' + ['⁰','⁻¹','⁻²','⁻³','⁻⁴','⁻⁵'][-round(log(datum.value)/LN10)] : ''",
        "tickSize": {"condition": {"test": "abs(log(datum.value)/LN10 - round(log(datum.value)/LN10)) < 0.001", "value": 5}, "value": 2.5}}},
    "y": {"field": "y", "type": "quantitative", "title": "OD₄₉₀", "scale": {"domain": [0, 1], "nice": false},
      "axis": {"values": [0,0.1,0.2,0.3,0.4,0.5,0.6,0.7,0.8,0.9,1], "labelExpr": "round(datum.value*10) % 2 == 0 ? format(datum.value, '.1f') : ''",
        "tickSize": {"condition": {"test": "round(datum.value*10) % 2 == 0", "value": 4}, "value": 2.5}}}
  },
  "layer": [
    {"mark": {"type": "line", "strokeWidth": 2, "interpolate": "monotone"},
     "encoding": {"y": {"field": "f", "type": "quantitative", "scale": {"domain": [0, 1], "nice": false}},
       "order": {"field": "x", "sort": "descending"},
       "stroke": {"field": "s", "type": "nominal", "legend": null, "scale": {"domain": ["PBS","BSA control","hyper-glycosylated HA","wild-type HA"], "range": ["#000000","#999999","#f4841f","#2389e3"]}}}},
    {"transform": [{"filter": "isValid(datum.lo)"}],
     "mark": {"type": "rule", "strokeWidth": 1.2},
     "encoding": {"y": {"field": "lo", "type": "quantitative", "scale": {"domain": [0, 1], "nice": false}}, "y2": {"field": "hi"},
       "stroke": {"field": "s", "type": "nominal", "legend": null, "scale": {"domain": ["PBS","BSA control","hyper-glycosylated HA","wild-type HA"], "range": ["#000000","#999999","#f4841f","#2389e3"]}}}},
    {"transform": [{"filter": "isValid(datum.lo)"}],
     "mark": {"type": "point", "shape": "stroke", "filled": false, "size": 30, "strokeWidth": 1.2, "opacity": 1},
     "encoding": {"y": {"field": "lo", "type": "quantitative", "scale": {"domain": [0, 1], "nice": false}},
       "stroke": {"field": "s", "type": "nominal", "legend": null, "scale": {"domain": ["PBS","BSA control","hyper-glycosylated HA","wild-type HA"], "range": ["#000000","#999999","#f4841f","#2389e3"]}}}},
    {"transform": [{"filter": "isValid(datum.hi)"}],
     "mark": {"type": "point", "shape": "stroke", "filled": false, "size": 30, "strokeWidth": 1.2, "opacity": 1},
     "encoding": {"y": {"field": "hi", "type": "quantitative", "scale": {"domain": [0, 1], "nice": false}},
       "stroke": {"field": "s", "type": "nominal", "legend": null, "scale": {"domain": ["PBS","BSA control","hyper-glycosylated HA","wild-type HA"], "range": ["#000000","#999999","#f4841f","#2389e3"]}}}},
    {"transform": [{"filter": "isValid(datum.y)"}],
     "mark": {"type": "point", "filled": true, "size": 32, "opacity": 1},
     "encoding": {
       "color": {"field": "s", "type": "nominal", "scale": {"domain": ["wild-type HA","hyper-glycosylated HA","BSA control","PBS"], "range": ["#2389e3","#f4841f","#999999","#000000"]},
         "legend": {"title": "Sera from mice vaccinated with:", "orient": "none", "legendX": 419, "legendY": -24, "titleFont": "Lato", "titleFontSize": 15, "titleFontWeight": "normal", "titleColor": "#000", "titlePadding": 6, "labelFont": "Liberation Sans", "labelFontSize": 15, "labelColor": "#000", "symbolSize": 95, "symbolOffset": 7, "labelOffset": 19, "rowPadding": 7.5, "titleLimit": 400, "labelLimit": 300}},
       "shape": {"field": "s", "type": "nominal", "scale": {"domain": ["wild-type HA","hyper-glycosylated HA","BSA control","PBS"], "range": ["circle","square","M-1,-0.75L-0.75,-1L0,-0.25L0.75,-1L1,-0.75L0.25,0L1,0.75L0.75,1L0,0.25L-0.75,1L-1,0.75L-0.25,0Z","M0,-1L0.2245,-0.309L0.9511,-0.309L0.3633,0.118L0.5878,0.809L0,0.382L-0.5878,0.809L-0.3633,0.118L-0.9511,-0.309L-0.2245,-0.309Z"]},
         "legend": {"title": "Sera from mice vaccinated with:", "orient": "none", "legendX": 419, "legendY": -24, "titleFont": "Lato", "titleFontSize": 15, "titleFontWeight": "normal", "titleColor": "#000", "titlePadding": 6, "labelFont": "Liberation Sans", "labelFontSize": 15, "labelColor": "#000", "symbolSize": 95, "symbolOffset": 7, "labelOffset": 19, "rowPadding": 7.5, "titleLimit": 400, "labelLimit": 300}}}}
  ]}]},
 {"title": {"text": "G", "anchor": "start", "frame": "bounds", "font": "Liberation Sans", "fontSize": 24, "fontWeight": "bold", "color": "#000", "offset": -1},
  "vconcat": [{
  "width": 168, "height": 113,
  "title": {"text": "A/VN/1203/04 (H5N1)", "offset": 0},
  "data": {"name": "d"},
  "transform": [{"filter": "datum.p == 'G'"}],
  "encoding": {
    "x": {"field": "x", "type": "quantitative", "title": "1 / serum dilution", "scale": {"type": "log", "domain": [0.00001, 0.1], "reverse": true, "nice": false},
      "axis": {"values": [0.1,0.09,0.08,0.07,0.06,0.05,0.04,0.03,0.02,0.01,0.009,0.008,0.007,0.006,0.005,0.004,0.003,0.002,0.001,0.0009,0.0008,0.0007,0.0006,0.0005,0.0004,0.0003,0.0002,0.0001,0.00009,0.00008,0.00007,0.00006,0.00005,0.00004,0.00003,0.00002,0.00001],
        "labelExpr": "abs(log(datum.value)/LN10 - round(log(datum.value)/LN10)) < 0.001 ? '10' + ['⁰','⁻¹','⁻²','⁻³','⁻⁴','⁻⁵'][-round(log(datum.value)/LN10)] : ''",
        "tickSize": {"condition": {"test": "abs(log(datum.value)/LN10 - round(log(datum.value)/LN10)) < 0.001", "value": 5}, "value": 2.5}}},
    "y": {"field": "y", "type": "quantitative", "title": "OD₄₉₀", "scale": {"domain": [0, 1], "nice": false},
      "axis": {"values": [0,0.1,0.2,0.3,0.4,0.5,0.6,0.7,0.8,0.9,1], "labelExpr": "round(datum.value*10) % 2 == 0 ? format(datum.value, '.1f') : ''",
        "tickSize": {"condition": {"test": "round(datum.value*10) % 2 == 0", "value": 4}, "value": 2.5}}}
  },
  "layer": [
    {"mark": {"type": "line", "strokeWidth": 2, "interpolate": "monotone"},
     "encoding": {"y": {"field": "f", "type": "quantitative", "scale": {"domain": [0, 1], "nice": false}},
       "order": {"field": "x", "sort": "descending"},
       "stroke": {"field": "s", "type": "nominal", "legend": null, "scale": {"domain": ["PBS","BSA control","hyper-glycosylated HA","wild-type HA"], "range": ["#000000","#999999","#f4841f","#2389e3"]}}}},
    {"transform": [{"filter": "isValid(datum.lo)"}],
     "mark": {"type": "rule", "strokeWidth": 1.2},
     "encoding": {"y": {"field": "lo", "type": "quantitative", "scale": {"domain": [0, 1], "nice": false}}, "y2": {"field": "hi"},
       "stroke": {"field": "s", "type": "nominal", "legend": null, "scale": {"domain": ["PBS","BSA control","hyper-glycosylated HA","wild-type HA"], "range": ["#000000","#999999","#f4841f","#2389e3"]}}}},
    {"transform": [{"filter": "isValid(datum.lo)"}],
     "mark": {"type": "point", "shape": "stroke", "filled": false, "size": 30, "strokeWidth": 1.2, "opacity": 1},
     "encoding": {"y": {"field": "lo", "type": "quantitative", "scale": {"domain": [0, 1], "nice": false}},
       "stroke": {"field": "s", "type": "nominal", "legend": null, "scale": {"domain": ["PBS","BSA control","hyper-glycosylated HA","wild-type HA"], "range": ["#000000","#999999","#f4841f","#2389e3"]}}}},
    {"transform": [{"filter": "isValid(datum.hi)"}],
     "mark": {"type": "point", "shape": "stroke", "filled": false, "size": 30, "strokeWidth": 1.2, "opacity": 1},
     "encoding": {"y": {"field": "hi", "type": "quantitative", "scale": {"domain": [0, 1], "nice": false}},
       "stroke": {"field": "s", "type": "nominal", "legend": null, "scale": {"domain": ["PBS","BSA control","hyper-glycosylated HA","wild-type HA"], "range": ["#000000","#999999","#f4841f","#2389e3"]}}}},
    {"transform": [{"filter": "isValid(datum.y)"}],
     "mark": {"type": "point", "filled": true, "size": 32, "opacity": 1},
     "encoding": {
       "color": {"field": "s", "type": "nominal", "scale": {"domain": ["wild-type HA","hyper-glycosylated HA","BSA control","PBS"], "range": ["#2389e3","#f4841f","#999999","#000000"]},
         "legend": {"title": "Sera from mice vaccinated with:", "orient": "none", "legendX": 419, "legendY": -24, "titleFont": "Lato", "titleFontSize": 15, "titleFontWeight": "normal", "titleColor": "#000", "titlePadding": 6, "labelFont": "Liberation Sans", "labelFontSize": 15, "labelColor": "#000", "symbolSize": 95, "symbolOffset": 7, "labelOffset": 19, "rowPadding": 7.5, "titleLimit": 400, "labelLimit": 300}},
       "shape": {"field": "s", "type": "nominal", "scale": {"domain": ["wild-type HA","hyper-glycosylated HA","BSA control","PBS"], "range": ["circle","square","M-1,-0.75L-0.75,-1L0,-0.25L0.75,-1L1,-0.75L0.25,0L1,0.75L0.75,1L0,0.25L-0.75,1L-1,0.75L-0.25,0Z","M0,-1L0.2245,-0.309L0.9511,-0.309L0.3633,0.118L0.5878,0.809L0,0.382L-0.5878,0.809L-0.3633,0.118L-0.9511,-0.309L-0.2245,-0.309Z"]},
         "legend": {"title": "Sera from mice vaccinated with:", "orient": "none", "legendX": 419, "legendY": -24, "titleFont": "Lato", "titleFontSize": 15, "titleFontWeight": "normal", "titleColor": "#000", "titlePadding": 6, "labelFont": "Liberation Sans", "labelFontSize": 15, "labelColor": "#000", "symbolSize": 95, "symbolOffset": 7, "labelOffset": 19, "rowPadding": 7.5, "titleLimit": 400, "labelLimit": 300}}}}
  ]}]}
 ], "spacing": 23}
],
"spacing": 12
}
